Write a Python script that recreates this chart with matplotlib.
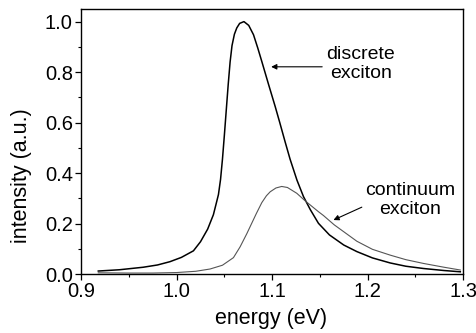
import matplotlib
matplotlib.use("Agg")
import matplotlib.pyplot as plt
from matplotlib.ticker import MultipleLocator

plt.rcParams['font.family'] = ['Liberation Sans', 'DejaVu Sans']

# discrete exciton curve
discrete_x = [0.918, 0.94, 0.965, 0.98, 0.993, 1.005, 1.0176, 1.025, 1.0325, 1.0385,
              1.0415, 1.0438, 1.046, 1.048, 1.050, 1.052, 1.054, 1.056, 1.058, 1.0605,
              1.063, 1.066, 1.0705, 1.0755, 1.0805, 1.085, 1.0892, 1.0962, 1.1031, 1.108,
              1.1135, 1.1188, 1.126, 1.1328, 1.14, 1.1485, 1.16, 1.175, 1.1887, 1.205,
              1.2236, 1.24, 1.2585, 1.28, 1.297]
discrete_y = [0.012, 0.017, 0.027, 0.036, 0.049, 0.066, 0.092, 0.128, 0.178, 0.235,
              0.280, 0.315, 0.375, 0.455, 0.550, 0.650, 0.750, 0.840, 0.905, 0.950,
              0.975, 0.993, 1.000, 0.985, 0.948, 0.895, 0.842, 0.752, 0.665, 0.600,
              0.525, 0.455, 0.372, 0.307, 0.255, 0.201, 0.155, 0.115, 0.089, 0.064,
              0.044, 0.031, 0.022, 0.014, 0.009]

# continuum exciton curve
continuum_x = [0.918, 0.95, 0.975, 1.0, 1.02, 1.035, 1.048, 1.0595, 1.0665, 1.0735,
               1.0785, 1.0835, 1.0892, 1.094, 1.098, 1.104, 1.11, 1.116, 1.1258, 1.1346,
               1.1485, 1.1537, 1.165, 1.1887, 1.205, 1.2236, 1.24, 1.2585, 1.28, 1.297]
continuum_y = [0.005, 0.004, 0.004, 0.006, 0.011, 0.020, 0.035, 0.065, 0.108, 0.160,
               0.200, 0.240, 0.283, 0.310, 0.326, 0.341, 0.347, 0.343, 0.320, 0.290,
               0.247, 0.232, 0.195, 0.130, 0.098, 0.075, 0.057, 0.042, 0.027, 0.016]

x_ticks = [0.9, 1.0, 1.1, 1.2, 1.3]
y_ticks = [0.0, 0.2, 0.4, 0.6, 0.8, 1.0]

fig = plt.figure(figsize=(4.77, 3.33), dpi=100)
ax = fig.add_axes([0.170, 0.177, 0.801, 0.796])

ax.plot(discrete_x, discrete_y, color='black', lw=1.1)
ax.plot(continuum_x, continuum_y, color='#555555', lw=0.8)

ax.set_xlim(0.9, 1.3)
ax.set_ylim(0.0, 1.05)
ax.set_xticks(x_ticks)
ax.set_yticks(y_ticks)
ax.set_xticklabels([f"{v:.1f}" for v in x_ticks])
ax.set_yticklabels([f"{v:.1f}" for v in y_ticks])
ax.xaxis.set_minor_locator(MultipleLocator(0.05))
ax.yaxis.set_minor_locator(MultipleLocator(0.1))
ax.tick_params(which='major', direction='out', length=4, width=0.9, labelsize=14.5, pad=2,
               top=False, right=False)
ax.tick_params(which='minor', direction='out', length=2.5, width=0.8, top=False, right=False)
for s in ax.spines.values():
    s.set_linewidth(1.0)

ax.set_xlabel('energy (eV)', fontsize=15.5)
ax.set_ylabel('intensity (a.u.)', fontsize=15.5)
ax.xaxis.set_label_coords(0.497, -0.128)
ax.yaxis.set_label_coords(-0.128, 0.37)

ax.text(1.1927, 0.833, 'discrete\nexciton', ha='center', va='center', fontsize=14,
        linespacing=1.15)
ax.annotate('', xy=(1.099, 0.821), xytext=(1.1524, 0.821),
            arrowprops=dict(arrowstyle='-|>', color='black', lw=0.8,
                            mutation_scale=8, shrinkA=0, shrinkB=0))

ax.text(1.2445, 0.292, 'continuum\nexciton', ha='center', va='center', fontsize=14,
        linespacing=1.15)
ax.annotate('', xy=(1.1642, 0.214), xytext=(1.1939, 0.265),
            arrowprops=dict(arrowstyle='-|>', color='black', lw=0.8,
                            mutation_scale=8, shrinkA=0, shrinkB=0))

fig.savefig('out.png', dpi=100)
